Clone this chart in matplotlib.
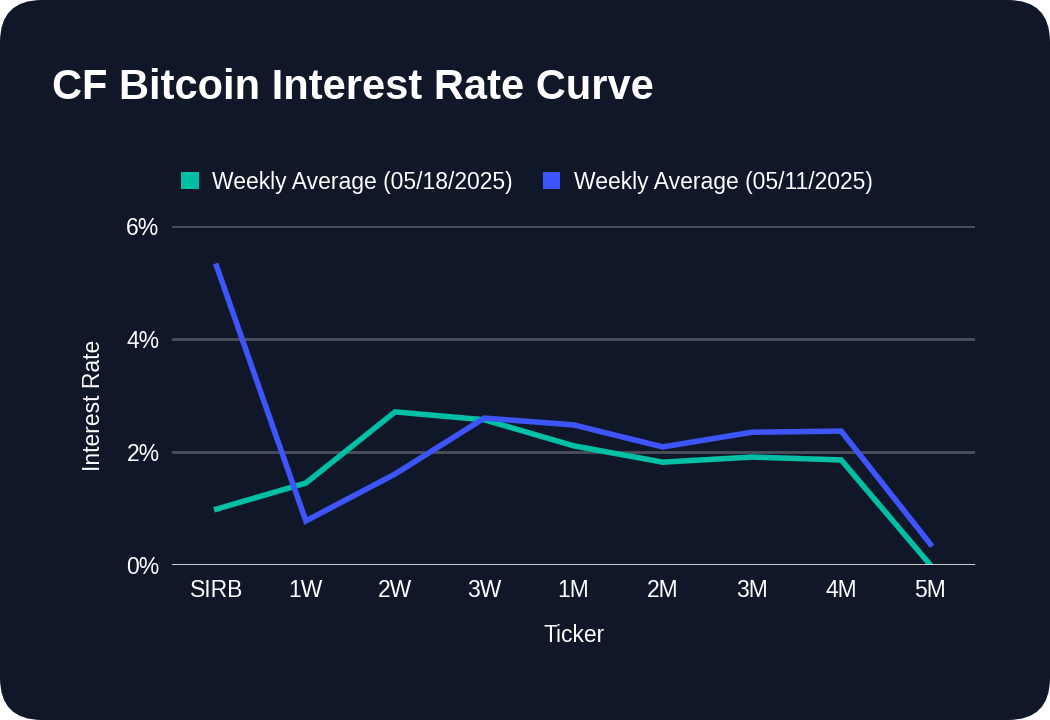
import matplotlib
matplotlib.use("Agg")
import matplotlib.pyplot as plt
from matplotlib.patches import FancyBboxPatch, Patch
from matplotlib.ticker import FuncFormatter

tickers = ["SIRB", "1W", "2W", "3W", "1M", "2M", "3M", "4M", "5M"]
week_0518 = [0.99, 1.45, 2.71, 2.57, 2.11, 1.82, 1.91, 1.86, 0.00]
week_0511 = [5.29, 0.78, 1.61, 2.60, 2.48, 2.09, 2.35, 2.37, 0.37]
label_0518 = "Weekly Average (05/18/2025)"
label_0511 = "Weekly Average (05/11/2025)"

BG = "#0f1729"
GREEN = "#00bfa5"
BLUE = "#3d55fb"
GRID = "#4a505c"
FS = 16.5

plt.rcParams['font.family'] = ['Liberation Sans', 'DejaVu Sans']

fig = plt.figure(figsize=(10.5, 7.2), dpi=100)
fig.patch.set_facecolor("white")
card = FancyBboxPatch((0, 0), 1, 1, boxstyle="round,pad=0,rounding_size=0.04",
                      transform=fig.transFigure, facecolor=BG, edgecolor="none",
                      mutation_aspect=1050/720, zorder=-10)
fig.patches.append(card)

ax = fig.add_axes([172/1050, (720-565)/720, 803/1050, 339/720])
ax.patch.set_alpha(0)
x = range(len(tickers))
ax.plot(x, week_0518, color=GREEN, lw=4, solid_joinstyle="miter", zorder=3)
ax.plot(x, week_0511, color=BLUE, lw=4, solid_joinstyle="miter", zorder=4)

ax.set_xlim(-0.5, len(tickers) - 0.5)
ax.set_ylim(0, 6)
ax.set_yticks([0, 2, 4, 6])
ax.yaxis.set_major_formatter(FuncFormatter(lambda v, p: f"{v:.0f}%"))
ax.set_xticks(list(x))
ax.set_xticklabels(tickers)
ax.grid(axis="y", color=GRID, lw=2)
ax.axhline(0, color="#d9d9d9", lw=2, zorder=5)
for s in ax.spines.values():
    s.set_visible(False)
ax.tick_params(axis="both", length=0, colors="white", labelsize=FS)
ax.tick_params(axis="x", pad=10)
ax.tick_params(axis="y", pad=9)
ax.set_axisbelow(True)

fig.text(93/1050, 1 - 405/720, "Interest Rate", rotation=90, color="white",
         fontsize=FS, ha="center", va="center")
fig.text(574/1050, 1 - 635/720, "Ticker", color="white", fontsize=FS,
         ha="center", va="center")
fig.text(52/1050, 1 - 88/720, "CF Bitcoin Interest Rate Curve", color="white",
         fontsize=30, fontweight="bold", ha="left", va="center")

handles = [Patch(facecolor=GREEN, edgecolor="none"), Patch(facecolor=BLUE, edgecolor="none")]
fig.legend(handles, [label_0518, label_0511], loc="center",
           bbox_to_anchor=(527/1050, 1 - 182/720), ncol=2, frameon=False,
           fontsize=FS, handlelength=0.75, handleheight=0.75,
           handletextpad=0.6, columnspacing=1.3, labelcolor="white")

fig.savefig("out.png", dpi=100, facecolor=fig.get_facecolor())
